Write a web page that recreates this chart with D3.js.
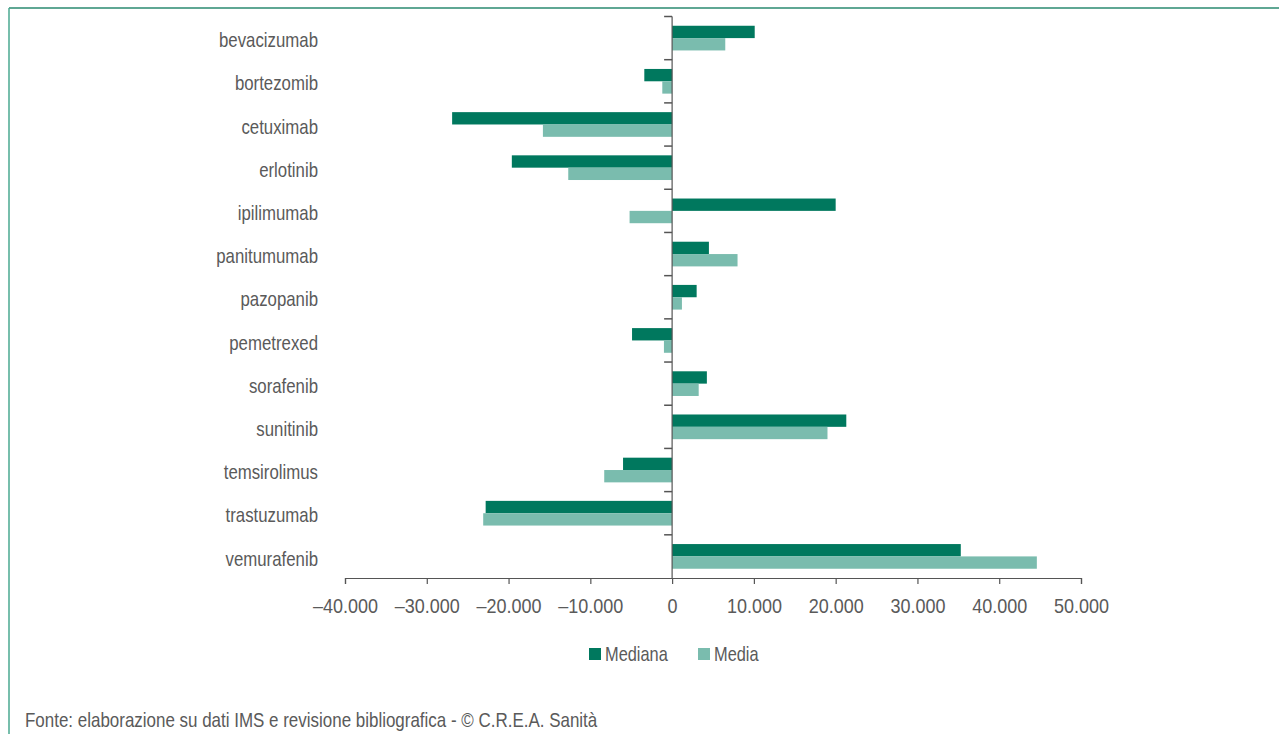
<!DOCTYPE html>
<html><head><meta charset="utf-8">
<script src="https://cdn.jsdelivr.net/npm/d3@7"></script>
<style>
body{margin:0;background:#fff;}
svg text{font-family:"Liberation Sans","Arimo",Arial,sans-serif;fill:#5a5a5a;}
</style></head><body>
<svg id="c" width="1279" height="734"></svg>
<script>
const categories = ["bevacizumab","bortezomib","cetuximab","erlotinib","ipilimumab","panitumumab","pazopanib","pemetrexed","sorafenib","sunitinib","temsirolimus","trastuzumab","vemurafenib"];
const seriesNames = ["Mediana","Media"];
const mediana = [10100,-3400,-26900,-19600,20000,4500,3000,-4900,4250,21300,-6000,-22800,35300];
const media = [6500,-1200,-15800,-12700,-5200,8000,1200,-1000,3250,19000,-8300,-23100,44600];
const xTicks = [-40000,-30000,-20000,-10000,0,10000,20000,30000,40000,50000];
const source = "Fonte: elaborazione su dati IMS e revisione bibliografica - © C.R.E.A. Sanità";
const colors = ["#00785e","#7abcae"];

const svg = d3.select("#c");
// frame
svg.append("line").attr("x1",9).attr("x2",1279).attr("y1",8).attr("y2",8).attr("stroke","#2a8a70").attr("stroke-width",1.5);
svg.append("line").attr("x1",9).attr("x2",9).attr("y1",8).attr("y2",734).attr("stroke","#4aa890").attr("stroke-width",1.5);

const x = d3.scaleLinear().domain([-40000,50000]).range([345,1081]);
const y = d3.scaleBand().domain(categories).range([16.5,578]);
const inner = d3.scaleBand().domain(seriesNames).range([0,y.bandwidth()]).paddingOuter(0.75).paddingInner(0);

const data = categories.map((c,i)=>({c, vals:[mediana[i],media[i]]}));
const g = svg.append("g");
data.forEach(d=>{
  d.vals.forEach((v,j)=>{
    g.append("rect")
      .attr("x", x(Math.min(0,v)))
      .attr("width", Math.abs(x(v)-x(0)))
      .attr("y", y(d.c)+inner(seriesNames[j]))
      .attr("height", inner.bandwidth())
      .attr("fill", colors[j]);
  });
});

const fmt = v => v===0 ? "0" : (v<0?"\u2013":"") + d3.format(",")(Math.abs(v)).replace(/,/g,".");
const WORD_S = 0.82, NUM_S = 0.9;

// x axis
const xa = svg.append("g").attr("transform","translate(0,578)")
  .call(d3.axisBottom(x).tickValues(xTicks).tickFormat(fmt).tickSizeOuter(0).tickSize(6));
xa.select(".domain").attr("stroke","#555").attr("stroke-width",1.2);
xa.selectAll(".tick line").attr("stroke","#555").attr("stroke-width",1.2);
xa.selectAll(".tick text").attr("font-size",20).attr("dy",0).attr("y",0)
  .attr("transform",`translate(0,34.7) scale(${NUM_S},1)`).style("fill","#5a5a5a");

// y axis at zero
const ya = svg.append("g").attr("transform",`translate(${x(0)},0)`);
ya.append("line").attr("x1",0).attr("x2",0).attr("y1",16.5).attr("y2",578).attr("stroke","#555").attr("stroke-width",1.2);
const bounds = categories.map(c=>y(c));
ya.selectAll("line.t").data(bounds).enter().append("line").attr("class","t")
  .attr("x1",-8).attr("x2",0).attr("y1",d=>d).attr("y2",d=>d).attr("stroke","#555").attr("stroke-width",1.5);

// category labels
svg.append("g").selectAll("text").data(categories).enter().append("text")
  .attr("transform",d=>`translate(318,${y(d)+y.bandwidth()/2+9.2}) scale(${WORD_S},1)`)
  .attr("text-anchor","end").attr("font-size",20.5).text(d=>d);

// legend
const leg = svg.append("g");
const legX = [589,698];
seriesNames.forEach((s,i)=>{
  leg.append("rect").attr("x",legX[i]).attr("y",648).attr("width",12).attr("height",12).attr("fill",colors[i]);
  leg.append("text").attr("transform",`translate(${legX[i]+16},661) scale(${WORD_S},1)`).attr("font-size",20).text(s);
});

svg.append("text").attr("transform",`translate(25,727) scale(${WORD_S},1)`).attr("font-size",20.7).text(source);
</script></body></html>
